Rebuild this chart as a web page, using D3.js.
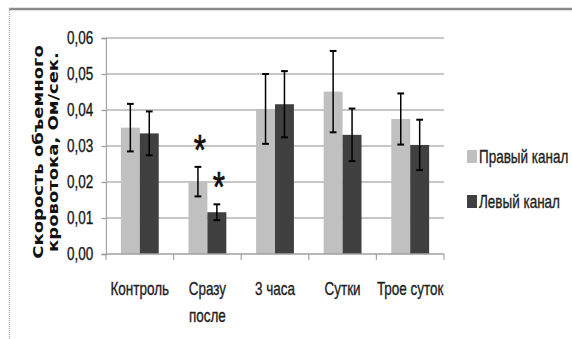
<!DOCTYPE html>
<html>
<head>
<meta charset="utf-8">
<script src="https://cdn.jsdelivr.net/npm/d3@7"></script>
<style>
  body { margin: 0; background: #fff; }
  svg { display: block; }
  text { font-family: 'Liberation Sans', Arial, sans-serif; fill: #111; }
  .lbl { stroke: #222; stroke-width: 0.35px; }
</style>
</head>
<body>
<svg></svg>
<script>
// chart data
const categories = ['Контроль', 'Сразу после', '3 часа', 'Сутки', 'Трое суток']
const seriesNames = ['Правый канал', 'Левый канал']
const rightValues = [0.0351, 0.0201, 0.0403, 0.0451, 0.0375]
const leftValues = [0.0335, 0.0116, 0.0416, 0.0331, 0.0303]
const rightErrors = [0.0066, 0.0041, 0.0097, 0.0113, 0.0071]
const leftErrors = [0.0061, 0.0022, 0.0092, 0.0073, 0.0070]
const rightStars = [false, true, false, false, false]
const leftStars = [false, true, false, false, false]
const yTicks = [0, 0.01, 0.02, 0.03, 0.04, 0.05, 0.06]
const yTitle = ['Скорость объемного', 'кровотока, Ом/сек.']

const colors = ['#c0c0c0', '#404040']

// the original picture is squeezed horizontally, so draw in a wider
// space and scale the whole chart group on x
const w = 572
const h = 339
const sx = 0.75

const svg = d3.select('svg')
  .attr('width', w)
  .attr('height', h)

// outer frame (top and left edges only are visible)
svg.append('line')
  .attr('x1', 9).attr('x2', w)
  .attr('y1', 9).attr('y2', 9)
  .attr('stroke', '#8a8a8a')
  .attr('stroke-width', 2.5)

svg.append('line')
  .attr('x1', 9.5).attr('x2', 9.5)
  .attr('y1', 8).attr('y2', h)
  .attr('stroke', '#b0b0b0')
  .attr('stroke-width', 1.5)
  .attr('stroke-dasharray', '1,1')

const g = svg.append('g')
  .attr('transform', `scale(${sx},1)`)

const plotLeft = 106 / sx
const plotRight = 444 / sx
const plotTop = 38
const plotBottom = 254

const x = d3.scaleBand()
  .domain(categories)
  .range([plotLeft, plotRight])
  .paddingInner(0.44)
  .paddingOuter(0.22)

const x1 = d3.scaleBand()
  .domain(seriesNames)
  .range([0, x.bandwidth()])

const y = d3.scaleLinear()
  .domain([0, 0.06])
  .range([plotBottom, plotTop])

// gridlines
g.append('g')
  .selectAll('line')
  .data(yTicks.slice(1))
  .enter()
  .append('line')
  .attr('x1', plotLeft)
  .attr('x2', plotRight)
  .attr('y1', d => y(d))
  .attr('y2', d => y(d))
  .attr('stroke', '#b4b4b4')
  .attr('stroke-width', 1.3)

// y axis
const yAxis = d3.axisLeft(y)
  .tickValues(yTicks)
  .tickSize(6)
  .tickPadding(11)
  .tickFormat(d => d3.format('.2f')(d).replace('.', ','))

const yg = g.append('g')
  .attr('transform', `translate(${plotLeft}, 0)`)
  .call(yAxis)

yg.select('.domain').attr('stroke', '#a0a0a0').attr('stroke-width', 1.5)
yg.selectAll('.tick line').attr('stroke', '#a0a0a0').attr('stroke-width', 1.3)
yg.selectAll('.tick text')
  .attr('class', 'lbl')
  .attr('font-size', 18)
  .attr('font-family', "'Liberation Sans', Arial, sans-serif")
  .attr('fill', '#222')

// y axis title
const title = g.append('text')
  .attr('transform', `translate(57, 152) rotate(-90)`)
  .attr('text-anchor', 'middle')
  .style('font-family', "'DejaVu Sans', Verdana, sans-serif")
  .style('font-weight', 'bold')
  .style('font-size', '18px')

title.selectAll('tspan')
  .data(yTitle)
  .enter()
  .append('tspan')
  .attr('x', 0)
  .attr('dy', (d, i) => i === 0 ? 0 : 20)
  .text(d => d)

// bars
const rows = categories.map((c, i) => ({
  cat: c,
  items: [
    { name: seriesNames[0], v: rightValues[i], e: rightErrors[i], star: rightStars[i], color: colors[0] },
    { name: seriesNames[1], v: leftValues[i], e: leftErrors[i], star: leftStars[i], color: colors[1] }
  ]
}))

const groups = g.selectAll('.group')
  .data(rows)
  .enter()
  .append('g')
  .attr('class', 'group')
  .attr('transform', d => `translate(${x(d.cat)}, 0)`)

groups.selectAll('rect')
  .data(d => d.items)
  .enter()
  .append('rect')
  .attr('x', d => x1(d.name))
  .attr('y', d => y(d.v))
  .attr('width', x1.bandwidth())
  .attr('height', d => y(0) - y(d.v))
  .attr('fill', d => d.color)

// error bars
const cap = 4.5
const eb = groups.selectAll('.err')
  .data(d => d.items)
  .enter()
  .append('g')
  .attr('class', 'err')
  .attr('transform', d => `translate(${x1(d.name) + x1.bandwidth() / 2}, 0)`)

eb.append('line')
  .attr('y1', d => y(d.v + d.e))
  .attr('y2', d => y(d.v - d.e))
  .attr('stroke', '#000')
  .attr('stroke-width', 2)

eb.selectAll('.cap')
  .data(d => [d.v + d.e, d.v - d.e])
  .enter()
  .append('line')
  .attr('class', 'cap')
  .attr('x1', -cap)
  .attr('x2', cap)
  .attr('y1', d => y(d))
  .attr('y2', d => y(d))
  .attr('stroke', '#000')
  .attr('stroke-width', 2)

// significance marks
groups.selectAll('.star')
  .data(d => d.items.filter(it => it.star))
  .enter()
  .append('text')
  .attr('class', 'star')
  .attr('x', d => x1(d.name) + x1.bandwidth() / 2 + 2.7)
  .attr('y', d => y(d.v + d.e) - 3)
  .attr('text-anchor', 'middle')
  .style('font-size', '42px')
  .style('stroke', '#000')
  .style('stroke-width', '0.6px')
  .text('*')

// x axis line and ticks at category boundaries
const step = x.step()
const bounds = categories.map(c => x(c) - step * x.paddingInner() / 2)
bounds.push(plotRight)

g.append('line')
  .attr('x1', plotLeft)
  .attr('x2', plotRight)
  .attr('y1', plotBottom)
  .attr('y2', plotBottom)
  .attr('stroke', '#a0a0a0')
  .attr('stroke-width', 1.5)

g.append('g')
  .selectAll('line')
  .data(bounds)
  .enter()
  .append('line')
  .attr('x1', d => d)
  .attr('x2', d => d)
  .attr('y1', plotBottom)
  .attr('y2', plotBottom + 6)
  .attr('stroke', '#a0a0a0')
  .attr('stroke-width', 1.5)

// category labels, wrapped on spaces where needed
const labels = g.append('g')
  .selectAll('text')
  .data(categories)
  .enter()
  .append('text')
  .attr('class', 'lbl')
  .attr('x', d => x(d) + x.bandwidth() / 2)
  .attr('y', 295)
  .attr('text-anchor', 'middle')
  .style('font-size', '18px')
  .style('fill', '#222')

labels.each(function (d) {
  const lines = d === 'Сразу после' ? d.split(' ') : [d]
  d3.select(this).selectAll('tspan')
    .data(lines)
    .enter()
    .append('tspan')
    .attr('x', x(d) + x.bandwidth() / 2)
    .attr('dy', (t, i) => i === 0 ? 0 : 27)
    .text(t => t)
})

// legend
const legend = g.selectAll('.legend')
  .data(seriesNames)
  .enter()
  .append('g')
  .attr('class', 'legend')
  .attr('transform', (d, i) => `translate(${467 / sx}, ${150 + i * 45})`)

legend.append('rect')
  .attr('width', 10 / sx)
  .attr('height', 13)
  .attr('fill', (d, i) => colors[i])

legend.append('text')
  .attr('class', 'lbl')
  .attr('x', 12 / sx)
  .attr('y', 13)
  .style('font-size', '18px')
  .style('fill', '#222')
  .text(d => d)
</script>
</body>
</html>
